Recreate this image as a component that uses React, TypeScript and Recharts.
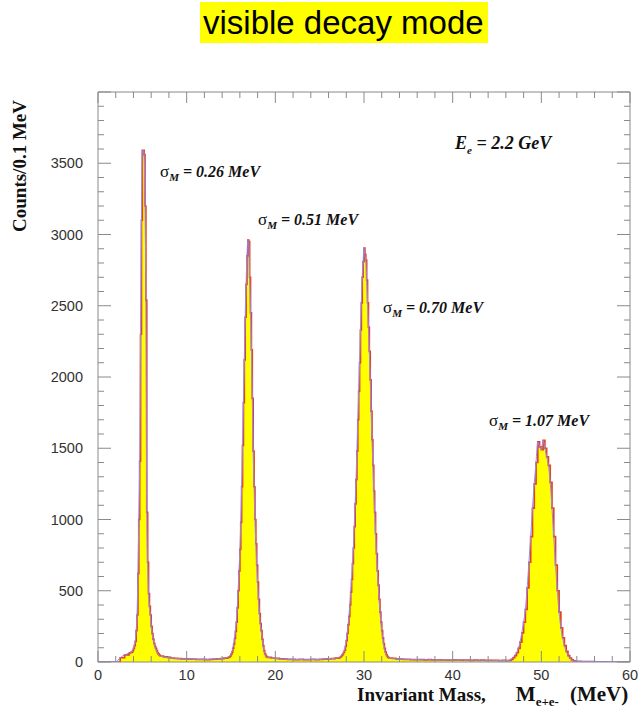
import React from "react";
import {
  ComposedChart,
  Area,
  Line,
  XAxis,
  YAxis,
  ReferenceArea,
} from "recharts";

// histogram segments: first bin edge, bin width (MeV), counts per bin
const bgStart = { start: 0, width: 0.5, counts: [0, 0, 0, 0, 0, 30, 50] };
const peak1 = {
  start: 3.5,
  width: 0.1,
  counts: [
    62, 65, 68, 70, 80, 95, 115, 145, 220, 330, 620, 1000, 1410, 2300, 3100,
    3590, 3590, 3560, 3200, 2540, 1050, 700, 480, 390, 330, 250, 200, 160, 130,
    110, 95, 80, 65, 55, 48,
  ],
};
const bgA = {
  start: 7.0,
  width: 0.4,
  counts: [42, 36, 32, 28, 26, 24, 22, 22, 20, 21, 19, 18, 18, 17, 19, 20, 22, 24, 27],
};
const peak2 = {
  start: 14.6,
  width: 0.1,
  counts: [
    30, 32, 36, 42, 55, 70, 95, 125, 165, 215, 280, 380, 500, 640, 790, 980,
    1230, 1520, 1820, 2120, 2420, 2650, 2850, 2960, 2950, 2700, 2450, 2190, 1850,
    1480, 1230, 1000, 830, 680, 560, 440, 340, 270, 220, 160, 115, 80, 58, 45, 36,
  ],
};
const bgB = {
  start: 19.1,
  width: 0.45,
  counts: [32, 28, 25, 22, 20, 19, 18, 17, 18, 16, 17, 18, 17, 18, 20, 22, 24, 27],
};
const peak3 = {
  start: 27.2,
  width: 0.1,
  counts: [
    30, 35, 40, 48, 58, 70, 84, 110, 150, 200, 260, 320, 400, 490, 580, 690, 800,
    950, 1110, 1280, 1480, 1700, 1900, 2100, 2330, 2520, 2700, 2810, 2905, 2860,
    2820, 2680, 2520, 2350, 2180, 1980, 1760, 1560, 1380, 1200, 1050, 900, 760,
    640, 540, 440, 350, 280, 220, 170, 130, 95, 70, 52, 40, 32,
  ],
};
const bgC = {
  start: 32.8,
  width: 0.4,
  counts: [
    28, 25, 22, 20, 19, 18, 17, 16, 17, 16, 15, 16, 15, 14, 15, 14, 13, 14, 15,
    14, 13, 14, 13, 12, 13, 12, 13, 12, 11, 12, 11, 10, 11, 10,
  ],
};
const peak4 = {
  start: 46.4,
  width: 0.2,
  counts: [
    12, 18, 30, 45, 65, 95, 140, 205, 280, 370, 520, 700, 880, 1080, 1250, 1400,
    1545, 1510, 1490, 1555, 1500, 1440, 1380, 1260, 1080, 880, 680, 500, 350,
    240, 170, 115, 75, 45, 28, 15, 8, 5,
  ],
};
const bgEnd = {
  start: 54.0,
  width: 0.5,
  counts: [4, 3, 2, 2, 1, 1, 1, 0, 0, 0, 0, 0, 0],
};

const segments = [bgStart, peak1, bgA, peak2, bgB, peak3, bgC, peak4, bgEnd];

const massTicks = Array.from({ length: 31 }, (_, i) => i * 2);
const countTicks = Array.from({ length: 41 }, (_, i) => i * 100);

const data = segments.flatMap((s) =>
  s.counts.map((c, i) => ({
    mass: Math.round((s.start + i * s.width) * 100) / 100,
    count: c,
  }))
);

const PLOT_LEFT = 98;
const PLOT_RIGHT = 630;
const PLOT_TOP = 92;
const PLOT_BOTTOM = 662;
const AXIS = "#8a8a8a";
const LABEL = "#333";
const SANS = "'Liberation Sans', Arial, sans-serif";
const SERIF = "'Liberation Serif', 'Times New Roman', serif";

function XTick(props: any) {
  const { x, payload } = props;
  const v = payload.value as number;
  const major = v % 10 === 0;
  const len = major ? 11 : 6;
  return (
    <g>
      <line x1={x} x2={x} y1={PLOT_BOTTOM} y2={PLOT_BOTTOM - len} stroke={AXIS} />
      <line x1={x} x2={x} y1={PLOT_TOP} y2={PLOT_TOP + len} stroke={AXIS} />
      {major && (
        <text
          x={x}
          y={PLOT_BOTTOM + 18}
          textAnchor="middle"
          fontFamily={SANS}
          fontSize={14.5}
          fill={LABEL}
        >
          {v}
        </text>
      )}
    </g>
  );
}

function YTick(props: any) {
  const { y, payload } = props;
  const v = payload.value as number;
  const major = v % 500 === 0;
  const len = major ? 13 : 6;
  return (
    <g>
      <line x1={PLOT_LEFT} x2={PLOT_LEFT + len} y1={y} y2={y} stroke={AXIS} />
      <line x1={PLOT_RIGHT} x2={PLOT_RIGHT - len} y1={y} y2={y} stroke={AXIS} />
      {major && v < 4000 && (
        <text
          x={PLOT_LEFT - 15}
          y={y + 5}
          textAnchor="end"
          fontFamily={SANS}
          fontSize={14.5}
          fill={LABEL}
        >
          {v}
        </text>
      )}
    </g>
  );
}

const note: React.CSSProperties = {
  position: "absolute",
  fontFamily: SERIF,
  fontWeight: "bold",
  fontStyle: "italic",
  fontSize: 16,
  lineHeight: 1,
  whiteSpace: "nowrap",
  color: "#111",
};

function Sigma({ left, top, value }: { left: number; top: number; value: string }) {
  return (
    <div style={{ ...note, left, top }}>
      <span style={{ fontStyle: "normal", fontWeight: "normal", fontSize: 17 }}>σ</span>
      <sub style={{ fontSize: 11 }}>M</sub> = {value} MeV
    </div>
  );
}

export default function App() {
  return (
    <div
      style={{
        position: "absolute",
        left: 0,
        top: 0,
        width: 640,
        height: 714,
        background: "white",
        overflow: "hidden",
      }}
    >
      <div
        style={{
          position: "absolute",
          left: 200,
          top: 2,
          height: 41,
          lineHeight: "41px",
          padding: "0 4px 0 3px",
          background: "#ffff00",
          fontFamily: SANS,
          fontSize: 33,
          color: "#000",
          whiteSpace: "nowrap",
        }}
      >
        visible decay mode
      </div>

      <ComposedChart
        width={640}
        height={714}
        data={data}
        margin={{ top: PLOT_TOP, right: 640 - PLOT_RIGHT, bottom: 714 - PLOT_BOTTOM - 30, left: PLOT_LEFT - 60 }}
      >
        <XAxis
          dataKey="mass"
          type="number"
          domain={[0, 60]}
          ticks={massTicks}
          interval={0}
          height={30}
          axisLine={false}
          tickLine={false}
          tickSize={0}
          tickMargin={0}
          tick={<XTick />}
          allowDataOverflow
        />
        <YAxis
          type="number"
          domain={[0, 4000]}
          ticks={countTicks}
          interval={0}
          width={60}
          axisLine={false}
          tickLine={false}
          tickSize={0}
          tickMargin={0}
          tick={<YTick />}
          allowDataOverflow
        />
        <Line
          type="monotone"
          dataKey="count"
          stroke="#8c8cff"
          strokeWidth={1}
          dot={false}
          activeDot={false}
          isAnimationActive={false}
        />
        <Area
          type="stepAfter"
          dataKey="count"
          stroke="#e5421e"
          strokeWidth={1.7}
          fill="#ffff00"
          fillOpacity={1}
          dot={false}
          activeDot={false}
          isAnimationActive={false}
        />
        <ReferenceArea
          x1={0}
          x2={60}
          y1={0}
          y2={4000}
          fill="none"
          fillOpacity={0}
          stroke={AXIS}
          strokeWidth={1}
        />
      </ComposedChart>

      <div style={{ ...note, left: 455, top: 134, fontSize: 18 }}>
        E<sub style={{ fontSize: 11 }}>e</sub> = 2.2 GeV
      </div>
      <Sigma left={160} top={163} value="0.26" />
      <Sigma left={258} top={211} value="0.51" />
      <Sigma left={383} top={299} value="0.70" />
      <Sigma left={489} top={412} value="1.07" />

      <div
        style={{
          position: "absolute",
          left: 20,
          top: 166,
          transform: "translate(-50%, -50%) rotate(-90deg)",
          fontFamily: SERIF,
          fontWeight: "bold",
          fontSize: 19,
          whiteSpace: "nowrap",
          color: "#111",
        }}
      >
        Counts/0.1 MeV
      </div>
      <div
        style={{
          position: "absolute",
          left: 357,
          top: 684,
          fontFamily: SERIF,
          fontWeight: "bold",
          fontSize: 19,
          lineHeight: 1,
          whiteSpace: "nowrap",
          color: "#111",
        }}
      >
        Invariant Mass,
        <span style={{ marginLeft: 30, fontSize: 21 }}>M</span>
        <sub style={{ fontSize: 13 }}>e+e-</sub>
        <span style={{ marginLeft: 11, fontSize: 21 }}>(MeV)</span>
      </div>
    </div>
  );
}
